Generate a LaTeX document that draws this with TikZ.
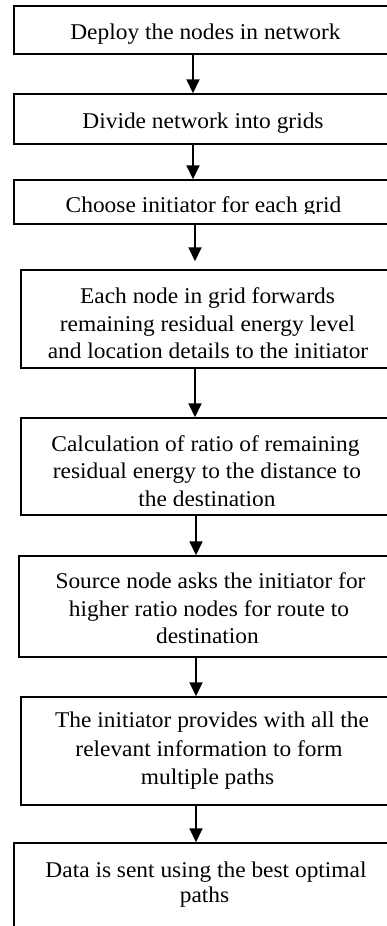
\documentclass[tikz,border=0pt]{standalone}
\usepackage{fontspec}
\setmainfont{Liberation Serif}[FakeStretch=1.04]
\usetikzlibrary{arrows.meta}
\tikzset{
  box/.style={draw=black, line width=1.5pt, rectangle, inner sep=0pt, fill=none},
  txt/.style={anchor=base, inner sep=0pt, font=\fontsize{22.5}{28}\selectfont},
  arr/.style={draw=black, line width=2pt, -{Triangle[width=13pt,length=14pt]}}
}
\begin{document}
\begin{tikzpicture}[x=1pt,y=1pt]
\clip (0,0) rectangle (387,-926);
\fill[white] (0,0) rectangle (387,-926);
% boxes
\node[box, minimum width=384pt, minimum height=48pt]  (b1) at (206,-30) {};
\node[box, minimum width=384pt, minimum height=50pt]  (b2) at (206,-119) {};
\node[box, minimum width=384pt, minimum height=44pt]  (b3) at (206,-202) {};
\node[box, minimum width=372pt, minimum height=98pt]  (b4) at (207,-319) {};
\node[box, minimum width=372pt, minimum height=97pt]  (b5) at (207,-466.5) {};
\node[box, minimum width=376pt, minimum height=101pt] (b6) at (207,-606.5) {};
\node[box, minimum width=372pt, minimum height=108pt] (b7) at (207,-751) {};
\node[box, minimum width=384pt, minimum height=97pt]  (b8) at (206,-891.5) {};
% texts
\node[txt] (t1) at (205.5,-39.5) {Deploy the nodes in network};
\node[txt] (t2) at (203,-128) {Divide network into grids};
\begin{scope}
\clip (14,-180) rectangle (398,-213.5);
\node[txt] (t3) at (203.5,-212) {Choose initiator for each grid};
\end{scope}
\node[txt] (t4a) at (207.5,-303) {Each node in grid forwards};
\node[txt] (t4b) at (207.5,-331) {remaining residual energy level};
\node[txt] (t4c) at (208,-358) {and location details to the initiator};
\node[txt] (t5a) at (205.5,-451) {Calculation of ratio of remaining};
\node[txt] (t5b) at (207,-478) {residual energy to the distance to};
\begin{scope}
\clip (21,-480) rectangle (393,-505);
\node[txt] (t5c) at (207,-506) {the destination};
\end{scope}
\node[txt] (t6a) at (210.5,-588) {Source node asks the initiator for};
\node[txt] (t6b) at (209,-616) {higher ratio nodes for route to};
\node[txt] (t6c) at (207.5,-643) {destination};
\node[txt] (t7a) at (212,-727) {The initiator provides with all the};
\node[txt] (t7b) at (209,-756) {relevant information to form};
\node[txt] (t7c) at (207.5,-784) {multiple paths};
\node[txt] (t8a) at (206,-877) {Data is sent using the best optimal};
\node[txt] (t8b) at (204.5,-902) {paths};
% arrow columns
\coordinate (ca) at (193,0);
\coordinate (cb) at (195,0);
\coordinate (cc) at (196,0);
\draw[arr] (b1.south -| ca) -- (b2.north -| ca);
\draw[arr] (b2.south -| ca) -- (b3.north -| ca);
\draw[arr, shorten >=8pt] (b3.south -| cb) -- (b4.north -| cb);
\draw[arr] (b4.south -| cb) -- (b5.north -| cb);
\draw[arr] (b5.south -| cc) -- (b6.north -| cc);
\draw[arr] (b6.south -| cc) -- (b7.north -| cc);
\draw[arr] (b7.south -| cc) -- (b8.north -| cc);
\end{tikzpicture}
\end{document}
